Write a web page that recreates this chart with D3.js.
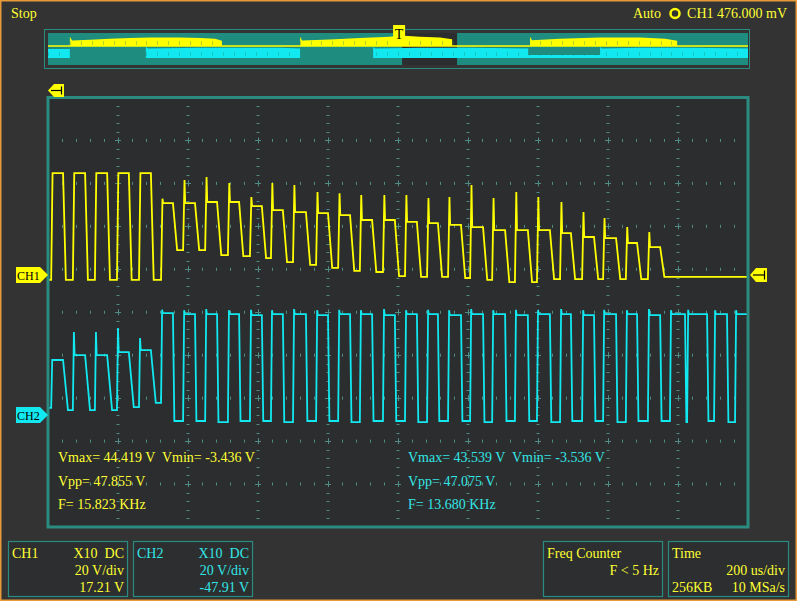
<!DOCTYPE html>
<html>
<head>
<meta charset="utf-8">
<script src="https://cdn.jsdelivr.net/npm/d3@7"></script>
<style>
  body { margin: 0; background: #333333; }
  svg { display: block; }
  text { font-family: "Liberation Serif", "DejaVu Serif", serif; font-size: 14px; white-space: pre; }
</style>
</head>
<body>
<div id="scope"></div>
<script>
// screen 797 x 601, scope grid 10 x 10 div
var svgWidth = 797;
var svgHeight = 601;

// time in us across the screen (200 us/div), volts at 20 V/div
var riseT = [9, 71, 134, 197, 260, 323, 386, 449, 514, 577, 637, 700, 766, 829, 891, 957,
  1020, 1083, 1143, 1206, 1269, 1334, 1397, 1463, 1526, 1586, 1651, 1714, 1777, 1826, 1903, 1963];
var fallT = [43, 106, 169, 231, 294, 357, 420, 483, 546, 611, 671, 737, 800, 863, 926, 991,
  1054, 1114, 1180, 1243, 1306, 1371, 1434, 1494, 1560, 1623, 1683, 1749, 1820, 1883, 1940, 2010];

// CH1 levels per cycle (28 cycles)
var ch1Start = -2.3;
var ch1High = [47.4, 47.4, 47.4, 47.4, 47.4,
  33.5, 33.5, 34.0, 34.0, 32.1, 30.2, 29.3, 28.8, 27.9, 25.6, 25.6, 24.7, 24.2, 23.3, 22.3,
  20.9, 20.9, 20.9, 19.5, 17.7, 17.2, 14.9, 13.0];
var ch1Spike = [47.4, 47.4, 47.4, 47.4, 47.4,
  35.5, 44.2, 45.6, 42.8, 36.3, 42.8, 41.9, 38.6, 38.1, 37.2, 37.2, 37.2, 35.8, 36.3, 41.9,
  35.8, 38.6, 36.3, 34.0, 29.3, 26.5, 22.3, 20.0];
var ch1Low = [-2.3, -2.3, -2.3, -2.3, -2.3,
  11.6, 11.6, 9.3, 8.8, 7.9, 6.0, 4.7, 3.3, 1.9, 1.4, -0.5, -0.9, -0.9, -1.4, -2.3,
  -3.3, -3.3, -1.9, -1.9, -1.9, -1.9, -1.9, -0.9];

// CH2 levels per cycle (32 cycles)
var ch2Start = 3.3;
var ch2High = [25.6, 27.9, 27.9, 29.3, 30.2,
  47.4, 47.0, 47.0, 47.0, 46.5, 47.0, 47.0, 46.5, 47.0, 47.0, 46.5, 47.0, 47.0, 46.5, 47.0,
  47.0, 46.5, 47.0, 47.0, 46.5, 47.0, 47.0, 46.5, 47.0, 47.0, 47.0, 47.0];
var ch2Spike = [25.6, 38.6, 38.6, 40.5, 35.8,
  49.0, 48.8, 49.3, 48.8, 49.0, 48.8, 49.3, 48.8, 49.0, 48.8, 49.3, 48.8, 49.0, 48.8, 49.3,
  48.8, 49.0, 48.8, 49.3, 48.8, 49.0, 48.8, 49.3, 48.8, 49.0, 48.8, 48.8];
var ch2Low = [2.3, 2.3, 2.3, 3.7, 5.6,
  -2.8, -2.8, -3.3, -2.8, -2.8, -3.3, -2.8, -2.8, -3.3, -2.8, -2.8, -3.3, -2.8, -2.8, -3.3,
  -2.8, -2.8, -3.3, -2.8, -2.8, -3.3, -2.8, -2.8, -3.3, -2.8, -3.3, -2.8];

// overview strip (ms of the 25.6 ms record), envelope height as a fraction of the band
var ovCh1T = [0.80, 0.80, 0.88, 1.54, 2.27, 3.00, 3.73, 4.83, 5.56, 6.11, 6.36, 6.36,
  9.22, 9.22, 9.29, 10.31, 11.41, 12.51, 12.87, 13.61, 14.34, 14.78, 14.78,
  17.63, 17.63, 17.70, 18.73, 20.19, 21.65, 22.57, 23.01, 23.01];
var ovCh1V = [0, 0.72, 0.42, 0.48, 0.55, 0.62, 0.66, 0.66, 0.62, 0.55, 0.40, 0,
  0, 0.72, 0.42, 0.50, 0.62, 0.72, 0.80, 0.72, 0.66, 0.52, 0,
  0, 0.72, 0.45, 0.55, 0.66, 0.66, 0.55, 0.40, 0];
var ovCh2T = [0, 0.80, 0.80, 3.58, 3.58, 3.66, 5.56, 7.02, 8.49, 9.22, 9.22,
  11.89, 11.89, 11.96, 13.61, 15.44, 17.56, 17.56, 20.19, 20.19, 20.26, 21.65, 23.50, 25.6];
var ovCh2V = [0.75, 0.75, 0, 0, 0.92, 0.80, 0.85, 0.85, 0.85, 0.80, 0,
  0, 0.92, 0.80, 0.85, 0.85, 0.80, 0.25, 0.25, 0.92, 0.80, 0.85, 0.85, 0.80];
var ovWindow = [12.95, 14.96];
var ovTrigger = 12.84;

// readouts
var ch1Meas = ["Vmax= 44.419 V  Vmin= -3.436 V", "Vpp= 47.855 V", "F= 15.823 KHz"];
var ch2Meas = ["Vmax= 43.539 V  Vmin= -3.536 V", "Vpp= 47.075 V", "F= 13.680 KHz"];

var YEL = "#ffff00", CYN = "#12e8f0", TEAL = "#2a8c80";
var YTXT = "#ffff33", CTXT = "#33e6e6";

var svg = d3.select("#scope").append("svg")
    .attr("width", svgWidth)
    .attr("height", svgHeight);

svg.append("rect").attr("width", svgWidth).attr("height", svgHeight).attr("fill", "#333333");

// scales
var x = d3.scaleLinear().domain([0, 2000]).range([48, 748]);
var gridY = d3.scaleLinear().domain([0, 10]).range([97.5, 527]);
var y1 = d3.scaleLinear().domain([0, 20]).range([275, 232.05]);
var y2 = d3.scaleLinear().domain([0, 20]).range([415, 372.05]);

// plot area
svg.append("rect")
    .attr("x", 48).attr("y", 97.5).attr("width", 700).attr("height", 429.5)
    .attr("fill", "#2b2d2e");

var grid = svg.append("g").attr("stroke", "#4f8c86").attr("stroke-width", 1);
var divs = d3.range(0, 2001, 200);
var minorX = d3.range(0, 2001, 40);
var rows = d3.range(0, 11, 1);
var minorY = d3.range(0, 10.01, 0.2);

// dashes along vertical grid lines
divs.slice(1, -1).forEach(function(t) {
  minorY.forEach(function(r) {
    grid.append("line")
      .attr("x1", x(t) - 1.5).attr("x2", x(t) + 1.5)
      .attr("y1", Math.round(gridY(r)) + 0.5).attr("y2", Math.round(gridY(r)) + 0.5);
  });
});
// ticks along horizontal grid lines
rows.slice(1, -1).forEach(function(r) {
  minorX.forEach(function(t) {
    grid.append("line")
      .attr("x1", Math.round(x(t)) + 0.5).attr("x2", Math.round(x(t)) + 0.5)
      .attr("y1", gridY(r) - 1.5).attr("y2", gridY(r) + 1.5);
  });
});
// crosses
divs.slice(1, -1).forEach(function(t) {
  rows.slice(1, -1).forEach(function(r) {
    grid.append("line").attr("x1", x(t) - 3).attr("x2", x(t) + 3)
      .attr("y1", Math.round(gridY(r)) + 0.5).attr("y2", Math.round(gridY(r)) + 0.5);
    grid.append("line").attr("x1", Math.round(x(t)) + 0.5).attr("x2", Math.round(x(t)) + 0.5)
      .attr("y1", gridY(r) - 3).attr("y2", gridY(r) + 3);
  });
});

// build a trace from the per-cycle edge readings
function buildTrace(start, high, spike, low, riseDur, fallDur1, fallDur2) {
  var pts = [[0, start]];
  for (var i = 0; i < high.length; i++) {
    var prev = i == 0 ? start : low[i - 1];
    var fd = i < 5 ? fallDur1 : fallDur2;
    pts.push([riseT[i], prev]);
    pts.push([riseT[i] + riseDur, spike[i]]);
    if (spike[i] != high[i]) pts.push([riseT[i] + riseDur + 2, high[i]]);
    pts.push([fallT[i], high[i]]);
    pts.push([fallT[i] + fd, low[i]]);
  }
  pts.push([2000, low[low.length - 1]]);
  return pts;
}

svg.append("clipPath").attr("id", "plotClip")
  .append("rect").attr("x", 49).attr("y", 99).attr("width", 698).attr("height", 427);

var traces = svg.append("g").attr("clip-path", "url(#plotClip)");

var line1 = d3.line().x(d => x(d[0])).y(d => y1(d[1]));
var line2 = d3.line().x(d => x(d[0])).y(d => y2(d[1]));

traces.append("path")
    .attr("d", line2(buildTrace(ch2Start, ch2High, ch2Spike, ch2Low, 3, 14, 4)))
    .attr("fill", "none").attr("stroke", CYN).attr("stroke-width", 1.8);
traces.append("path")
    .attr("d", line1(buildTrace(ch1Start, ch1High, ch1Spike, ch1Low, 4, 8, 12)))
    .attr("fill", "none").attr("stroke", YEL).attr("stroke-width", 1.8);

// plot frame
svg.append("rect")
    .attr("x", 48).attr("y", 97.5).attr("width", 700).attr("height", 429.5)
    .attr("fill", "none").attr("stroke", TEAL).attr("stroke-width", 3);

// measurement readouts
var measY = [462, 486, 509];
ch1Meas.forEach(function(s, i) {
  svg.append("text").attr("x", 58).attr("y", measY[i]).attr("fill", YTXT).text(s);
});
ch2Meas.forEach(function(s, i) {
  svg.append("text").attr("x", 408).attr("y", measY[i]).attr("fill", CTXT).text(s);
});

// channel markers
function chMarker(cy, fill, label) {
  svg.append("path")
    .attr("d", `M16,${cy - 8} L40,${cy - 8} L48,${cy} L40,${cy + 8} L16,${cy + 8} Z`)
    .attr("fill", fill);
  svg.append("text").attr("x", 17).attr("y", cy + 4.5)
    .style("font-size", "12px").attr("fill", "#000").text(label);
}
chMarker(y1(0), YEL, "CH1");
chMarker(y2(0), CYN, "CH2");

// trigger level marker (right) and trigger position marker (top left)
function levelFlag(x0, x1, cy, h) {
  svg.append("path")
    .attr("d", `M${x0},${cy} L${x0 + 6},${cy - h} L${x1},${cy - h} L${x1},${cy + h} L${x0 + 6},${cy + h} Z`)
    .attr("fill", YEL);
  svg.append("line").attr("x1", x0 + 3).attr("x2", x1 - 2).attr("y1", cy).attr("y2", cy)
    .attr("stroke", "#000").attr("stroke-width", 1.2);
  svg.append("line").attr("x1", x1 - 2.5).attr("x2", x1 - 2.5).attr("y1", cy - h + 2.5).attr("y2", cy + h - 2.5)
    .attr("stroke", "#000").attr("stroke-width", 1.2);
}
levelFlag(750, 767, y1(0), 7);
levelFlag(48, 64, 90.5, 6.5);

// overview strip
var xo = d3.scaleLinear().domain([0, 25.6]).range([48, 748]);
var yo1 = d3.scaleLinear().domain([0, 1]).range([46, 33]);
var yo2 = d3.scaleLinear().domain([0, 1]).range([58, 46]);

svg.append("rect").attr("x", 44.5).attr("y", 29.5).attr("width", 705).attr("height", 39)
    .attr("fill", "none").attr("stroke", TEAL).attr("stroke-width", 1);
svg.append("rect").attr("x", 48).attr("y", 33).attr("width", 700).attr("height", 32)
    .attr("fill", "#1f8c80");
svg.append("rect").attr("x", xo(ovWindow[0])).attr("y", 33)
    .attr("width", xo(ovWindow[1]) - xo(ovWindow[0])).attr("height", 32)
    .attr("fill", "#2b2d2e");

var ovArea1 = d3.area().x((d, i) => xo(ovCh1T[i])).y0(yo1(0)).y1(d => yo1(d));
var ovArea2 = d3.area().x((d, i) => xo(ovCh2T[i])).y0(yo2(0)).y1(d => yo2(d));
svg.append("path").attr("d", ovArea2(ovCh2V)).attr("fill", CYN);
svg.append("path").attr("d", ovArea1(ovCh1V)).attr("fill", YEL);
svg.append("line").attr("x1", 48).attr("x2", 748).attr("y1", 46).attr("y2", 46)
    .attr("stroke", YEL).attr("stroke-width", 1.5);

// hairline ticks across the strip bands
var ovTicks = svg.append("g").attr("stroke", "#1f8c80").attr("stroke-width", 1).attr("opacity", 0.35);
d3.range(0, 25.6, 0.4).forEach(function(t) {
  ovTicks.append("line").attr("x1", Math.round(xo(t)) + 0.5).attr("x2", Math.round(xo(t)) + 0.5)
    .attr("y1", 41).attr("y2", 45);
  ovTicks.append("line").attr("x1", Math.round(xo(t)) + 0.5).attr("x2", Math.round(xo(t)) + 0.5)
    .attr("y1", 52).attr("y2", 56);
});

// trigger marker in the strip
var tx = xo(ovTrigger);
svg.append("rect").attr("x", tx - 6).attr("y", 25).attr("width", 12).attr("height", 20).attr("fill", YEL);
svg.append("text").attr("x", tx).attr("y", 39).attr("text-anchor", "middle")
    .style("font-size", "14px").attr("fill", "#000").text("T");

// top status line
svg.append("text").attr("x", 11).attr("y", 18).attr("fill", YTXT).text("Stop");
svg.append("text").attr("x", 661).attr("y", 18).attr("text-anchor", "end").attr("fill", YTXT).text("Auto");
svg.append("circle").attr("cx", 675).attr("cy", 13.5).attr("r", 4.5)
    .attr("fill", "none").attr("stroke", YEL).attr("stroke-width", 2.5);
svg.append("text").attr("x", 787).attr("y", 18).attr("text-anchor", "end").attr("fill", YTXT).text("CH1 476.000 mV");

// bottom info panels
function panel(x0, x1, col, lines) {
  svg.append("rect").attr("x", x0 + 0.5).attr("y", 541.5).attr("width", x1 - x0).attr("height", 55)
    .attr("fill", "#2c2e2f").attr("stroke", TEAL).attr("stroke-width", 1.2);
  lines.forEach(function(l) {
    svg.append("text")
      .attr("x", l[1] == "end" ? x1 - 3 : x0 + 4)
      .attr("y", l[2]).attr("text-anchor", l[1]).attr("fill", col).text(l[0]);
  });
}
panel(8, 127, YTXT, [["CH1", "start", 558], ["X10  DC", "end", 558], ["20 V/div", "end", 575], ["17.21 V", "end", 592]]);
panel(133, 252, CTXT, [["CH2", "start", 558], ["X10  DC", "end", 558], ["20 V/div", "end", 575], ["-47.91 V", "end", 592]]);
panel(543, 662, YTXT, [["Freq Counter", "start", 558], ["F < 5 Hz", "end", 575]]);
panel(668, 788, YTXT, [["Time", "start", 558], ["200 us/div", "end", 575], ["256KB", "start", 592], ["10 MSa/s", "end", 592]]);

// orange screen edge
svg.append("rect").attr("x", 0.75).attr("y", 0.75).attr("width", svgWidth - 1.5).attr("height", svgHeight - 1.5)
    .attr("fill", "none").attr("stroke", "#e89a3a").attr("stroke-width", 1.5);
</script>
</body>
</html>
